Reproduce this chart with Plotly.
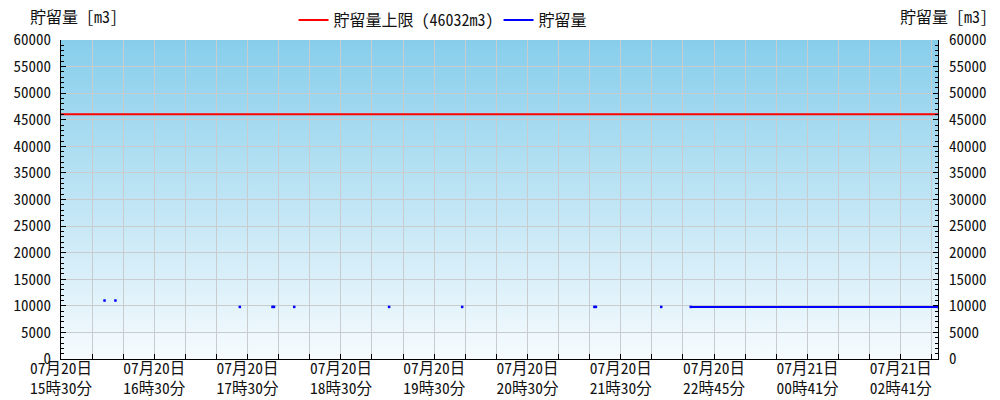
import base64
import plotly.graph_objects as go

# ---------------- data ----------------
limit_value = 46032
n_slots = 564  # number of time slots along the x axis

label_idx = [0, 60, 120, 180, 240, 300, 360, 420, 480, 540]
label_dates = ["07月20日"] * 8 + ["07月21日"] * 2
label_times = ["15時30分", "16時30分", "17時30分", "18時30分", "19時30分",
               "20時30分", "21時30分", "22時45分", "00時41分", "02時41分"]

storage_x = [28, None, 35, None, 115, None, 136, 137, None, 150, None,
             211, None, 258, None, 343, 344, None, 386, None, 405, 564]
storage_y = [11000, None, 11000, None, 9800, None, 9800, 9800, None, 9800, None,
             9800, None, 9800, None, 9800, 9800, None, 9800, None, 9800, 9800]

# ---------------- styling ----------------
FONT = "'Noto Sans Mono CJK JP', 'DejaVu Sans Mono', 'Noto Sans CJK JP', monospace"
TXT = "#111111"
GRID = "#C9CCCE"

tickvals = list(range(0, n_slots, 20))
ticktext = []
for v in tickvals:
    if v in label_idx:
        i = label_idx.index(v)
        ticktext.append(label_dates[i] + "<br>" + label_times[i])
    else:
        ticktext.append("")

svg = ('<svg xmlns="http://www.w3.org/2000/svg" width="10" height="100" preserveAspectRatio="none">'
       '<defs><linearGradient id="g" x1="0" y1="0" x2="0" y2="1">'
       '<stop offset="0" stop-color="#87CEEB"/><stop offset="1" stop-color="#F6FBFE"/>'
       '</linearGradient></defs><rect width="10" height="100" fill="url(#g)"/></svg>')
bg_uri = "data:image/svg+xml;base64," + base64.b64encode(svg.encode()).decode()

fig = go.Figure()
fig.add_trace(go.Scatter(
    x=[0, n_slots], y=[limit_value, limit_value], mode="lines",
    line=dict(color="#FF0000", width=2),
    name=f"貯留量上限 ({limit_value}m3)", yaxis="y2"))
fig.add_trace(go.Scatter(
    x=storage_x, y=storage_y, mode="lines+markers",
    line=dict(color="#0000FF", width=2),
    marker=dict(color="#0000FF", size=2.5, symbol="square"),
    connectgaps=False, name="貯留量", showlegend=False))
# legend entry for the storage series (line only)
fig.add_trace(go.Scatter(
    x=[None], y=[None], mode="lines", line=dict(color="#0000FF", width=2),
    name="貯留量", hoverinfo="skip"))

yaxis_common = dict(
    range=[0, 60000], dtick=5000, tick0=0, tickformat="d", showgrid=True,
    gridcolor=GRID, gridwidth=1, ticks="inside", ticklen=5, tickcolor="black",
    showline=True, linecolor="black", linewidth=1, zeroline=False, fixedrange=True,
    automargin=False, tickfont=dict(family=FONT, size=15, color=TXT),
    minor=dict(dtick=1000, ticks="inside", ticklen=3, tickcolor="black", showgrid=False),
)

fig.update_layout(
    width=1000, height=400,
    margin=dict(l=61, r=62, t=40, b=41, autoexpand=False),
    paper_bgcolor="white", plot_bgcolor="rgba(0,0,0,0)",
    font=dict(family=FONT, size=15, color=TXT),
    showlegend=True,
    legend=dict(orientation="h", x=0.4356, xanchor="center", y=(359 - 20) / 319,
                yanchor="middle", font=dict(family=FONT, size=16, color=TXT),
                itemwidth=30, bgcolor="rgba(0,0,0,0)"),
    xaxis=dict(range=[0, n_slots], tickvals=tickvals, ticktext=ticktext, tickangle=0,
               showgrid=True, gridcolor=GRID, gridwidth=1, ticks="inside",
               ticklen=5, tickcolor="black", showline=True, linecolor="black",
               linewidth=1, zeroline=False, fixedrange=True, automargin=False,
               ticklabelstandoff=-5,
               tickfont=dict(family=FONT, size=15.5, color=TXT)),
    yaxis=dict(**yaxis_common, side="left", ticklabelstandoff=6),
    yaxis2=dict(**yaxis_common, side="right", overlaying="y", ticklabelstandoff=7),
    images=[dict(source=bg_uri, xref="paper", yref="paper", x=0, y=1, sizex=1, sizey=1,
                 xanchor="left", yanchor="top", sizing="stretch", layer="below")],
    annotations=[
        dict(text="貯留量 [m3]", xref="paper", yref="paper", x=(74 - 61) / 877,
             y=(359 - 16) / 319, xanchor="center", yanchor="middle", showarrow=False,
             font=dict(family=FONT, size=16, color=TXT)),
        dict(text="貯留量 [m3]", xref="paper", yref="paper", x=(944 - 61) / 877,
             y=(359 - 16) / 319, xanchor="center", yanchor="middle", showarrow=False,
             font=dict(family=FONT, size=16, color=TXT)),
    ],
)

fig.write_html("out.html", config={"displayModeBar": False},
               post_script="document.body.style.margin='0';")
